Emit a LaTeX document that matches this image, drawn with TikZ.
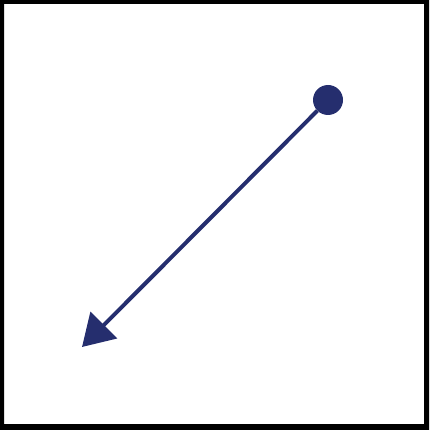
\documentclass[tikz,border=0pt]{standalone}
\usepackage{xcolor}
\usepackage{tikz}
\usetikzlibrary{arrows.meta}
\definecolor{navyblue}{RGB}{37,46,110}
\tikzset{
  startdot/.style={circle,fill=navyblue,inner sep=0pt,minimum size=30pt},
  arr/.style={-{Triangle[length=31pt,width=37pt]},line width=4pt,draw=navyblue},
  frame/.style={fill=black,even odd rule}
}
\begin{document}
\begin{tikzpicture}[x=1pt,y=-1pt]
  \useasboundingbox (0,0) rectangle (429,430);
  % frame
  \fill[frame] (0,0) rectangle (429,430) (4,4) rectangle (424,424);

  \node[startdot] (start) at (328,100) {};
  \coordinate (end) at (82,347);
  \draw[arr] (start) -- (end);
\end{tikzpicture}
\end{document}
